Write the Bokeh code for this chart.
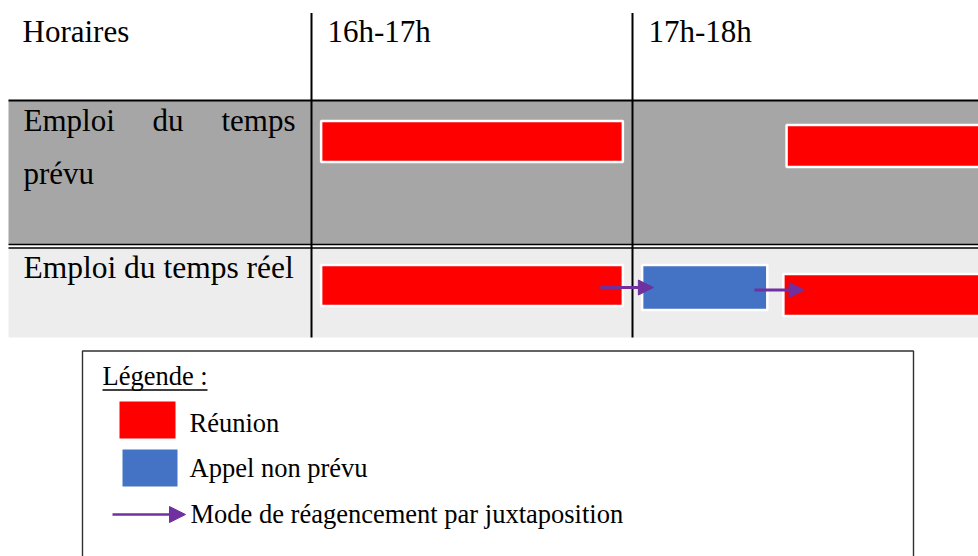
from bokeh.plotting import figure
from bokeh.models import Range1d, Arrow, NormalHead, ColumnDataSource
from bokeh.core.properties import value
from bokeh.embed import file_html
from bokeh.resources import INLINE

# ---------------- data ----------------
slot_labels = ["16h-17h", "17h-18h"]
slot_start = [16, 17]

row_names = ["Emploi du temps prévu", "Emploi du temps réel"]

# tasks (times in hours)
task_row = ["prévu", "prévu", "réel", "réel", "réel"]
task_kind = ["Réunion", "Réunion", "Réunion", "Appel non prévu", "Réunion"]
task_start = [16.03, 17.48, 16.03, 17.03, 17.47]
task_end = [16.97, 18.20, 16.97, 17.42, 18.20]

# rearrangement arrows (hours)
shift_from = [16.90, 17.38]
shift_to = [17.065, 17.535]

legend_items = ["Réunion", "Appel non prévu", "Mode de réagencement par juxtaposition"]

# ---------------- layout / style ----------------
RED = "#FF0000"
BLUE = "#4472C4"
PURPLE = "#7030A0"
GREY = "#A6A6A6"
LIGHT = "#EDEDED"
kind_color = {"Réunion": RED, "Appel non prévu": BLUE}

W, H = 978, 556
X16, HOUR_PX = 311.0, 321.0  # screen x of 16h, px per hour
def to_h(px):
    return 16 + (px - X16) / HOUR_PX

# vertical placement of each task bar (screen px)
bar_top = [120.5, 124.5, 264.5, 264.5, 273.5]
bar_bottom = [161.5, 166.5, 305.5, 309.5, 315.5]
arrow_y = [287, 289.5]

p = figure(width=W, height=H,
           x_range=Range1d(to_h(0), to_h(W)),
           y_range=Range1d(H, 0),
           output_backend="svg", toolbar_location=None,
           min_border=0, x_axis_location=None, y_axis_location=None)
p.extra_x_ranges = {"px": Range1d(0, W)}
p.grid.visible = False
p.outline_line_color = None
p.background_fill_color = "white"
p.border_fill_color = "white"

# row backgrounds
p.quad(left=[8, 8], right=[W, W], top=[100, 248], bottom=[243.5, 337],
       fill_color=[GREY, LIGHT], line_color=None, x_range_name="px")

# horizontal rules
p.segment(x0=[8, 8, 8], x1=[W, W, W], y0=[100, 244, 247.5], y1=[100, 244, 247.5],
          line_color="black", line_width=[2.2, 1.6, 1.6], x_range_name="px")
# vertical rules at slot starts
p.segment(x0=slot_start, x1=slot_start, y0=[12.5] * 2, y1=[337] * 2,
          line_color="black", line_width=2)

# task bars
src = ColumnDataSource(dict(
    left=task_start, right=task_end, top=bar_top, bottom=bar_bottom,
    color=[kind_color[k] for k in task_kind]))
p.quad(left="left", right="right", top="top", bottom="bottom", source=src,
       fill_color="color", line_color="white", line_width=2.5)

# arrows
for xs, xe, y in zip(shift_from, shift_to, arrow_y):
    p.add_layout(Arrow(end=NormalHead(size=15, fill_color=PURPLE, line_color=PURPLE, line_width=1),
                       x_start=xs, y_start=y, x_end=xe, y_end=y,
                       line_color=PURPLE, line_width=3))

def txt(xs, ys, texts, size=31, align="left", rng="px", font="Liberation Serif"):
    kw = dict(x_range_name=rng) if rng else {}
    p.text(x=xs, y=[y - 0.35 * size for y in ys], text=texts, text_font=value(font),
           text_font_size=value(f"{size}px"), text_baseline="alphabetic", text_align=align,
           text_color="black", **kw)

# header texts
txt([22], [42], ["Horaires"])
txt([s + 0.05 for s in slot_start], [42, 42], slot_labels, rng=None)

# row labels (first one justified on two lines)
w1 = row_names[0].split(" ")
txt([23, 152], [131, 131], [w1[0], w1[1]])
txt([295], [131], [w1[2]], align="right")
txt([23], [184], [w1[3]])
txt([23], [278], [row_names[1]], size=31.5)

# legend box
p.quad(left=[82], right=[913], top=[350.5], bottom=[620], fill_color="white",
       line_color="#303030", line_width=1.4, x_range_name="px")
txt([102], [385], ["Légende :"], size=26.5)
p.segment(x0=[102], x1=[207], y0=[389.5], y1=[389.5], line_color="black", line_width=1.5,
          x_range_name="px")
p.quad(left=[119, 122], right=[175, 177], top=[401, 449], bottom=[438, 486],
       fill_color=[RED, BLUE], line_color=None, x_range_name="px")
txt([189, 189, 190], [432, 477, 523], legend_items, size=26.5)
p.add_layout(Arrow(end=NormalHead(size=16, fill_color=PURPLE, line_color=PURPLE, line_width=1),
                   x_start=112, y_start=514, x_end=185, y_end=514,
                   line_color=PURPLE, line_width=2.5, x_range_name="px"))

open("out.html", "w").write(file_html(p, INLINE))
